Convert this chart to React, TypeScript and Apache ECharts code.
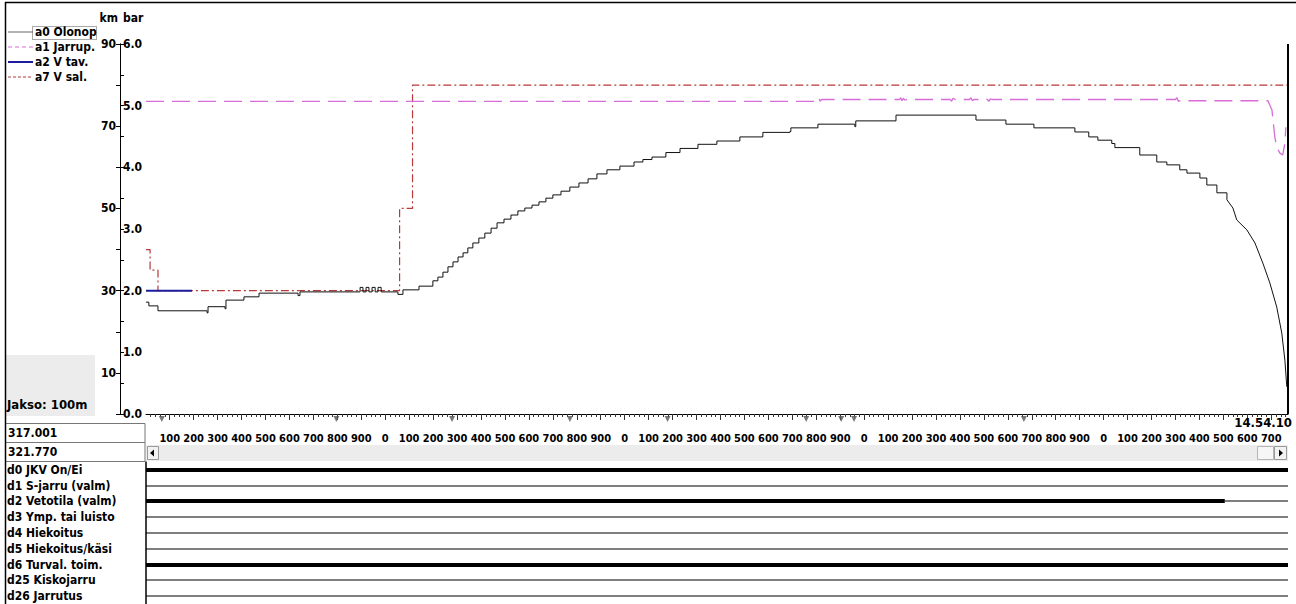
import React, { useEffect, useRef } from "react";
import * as echarts from "echarts";

const FONT = '"Liberation Sans Narrow", "DejaVu Sans Condensed", "Arial Narrow", sans-serif';

// ---- x range (km position) ----
const X_MIN = 317.001;
const X_MAX = 321.77;

// ---- tick definitions ----
const kmTickLabels = [10, 30, 50, 70, 90];
const kmTicks = [0, 10, 20, 30, 40, 50, 60, 70, 80, 90];
const barTickLabels = [0, 1, 2, 3, 4, 5, 6];
const barTicks = [0, 0.5, 1, 1.5, 2, 2.5, 3, 3.5, 4, 4.5, 5, 5.5, 6];
const xLabelValues = Array.from({ length: 47 }, (_, i) => Math.round((317.1 + i * 0.1) * 1000) / 1000);
const xMinorTicks = Array.from({ length: 238 }, (_, i) => Math.round((317.02 + i * 0.02) * 1000) / 1000);
const timeLabel = "14.54.10";
const periodLabel = "Jakso: 100m";

// ---- a0 Olonop (actual speed, km/h) : step changes ----
const olonopDist = [
  317.001, 317.013, 317.051, 317.256, 317.26, 317.331, 317.335, 317.41, 317.473, 317.636,
  317.644, 317.895, 317.907, 317.92, 317.932, 317.945, 317.958, 317.97, 317.983, 318.053,
  318.074, 318.141, 318.199, 318.22, 318.241, 318.262, 318.283, 318.304, 318.325, 318.345,
  318.366, 318.391, 318.416, 318.442, 318.467, 318.496, 318.525, 318.554, 318.583, 318.613,
  318.642, 318.671, 318.7, 318.734, 318.771, 318.809, 318.847, 318.884, 318.926, 318.98,
  319.039, 319.076, 319.114, 319.172, 319.231, 319.306, 319.385, 319.481, 319.577, 319.69,
  319.694, 319.807, 319.961, 319.965, 320.133, 320.467, 320.592, 320.709, 320.88, 320.938,
  320.976, 321.034, 321.047, 321.151, 321.222, 321.264, 321.318, 321.348, 321.402, 321.431,
  321.473, 321.515,
];
const olonopKmh = [
  27.2, 26.3, 25.1, 24.6, 26.1, 25.6, 27.7, 28.5, 29.4, 28.8,
  29.7, 30.8, 29.7, 30.8, 29.7, 30.8, 29.7, 30.8, 29.7, 29.1,
  30.2, 31.1, 32.4, 33.3, 34.5, 35.8, 37.0, 38.2, 39.2, 40.4,
  41.6, 42.8, 44.0, 45.2, 46.5, 47.4, 48.4, 49.4, 50.1, 50.8,
  51.6, 52.5, 53.3, 54.2, 55.2, 56.2, 57.2, 58.4, 59.4, 60.3,
  61.3, 61.9, 62.5, 63.6, 64.6, 65.6, 66.4, 67.4, 68.5, 68.7,
  69.6, 70.5, 69.9, 71.3, 72.7, 71.5, 70.5, 69.6, 68.6, 67.4,
  66.6, 65.8, 64.8, 63.0, 61.3, 60.6, 59.4, 58.6, 57.4, 55.7,
  53.8, 52.1,
];
// braking tail (continuous)
const olonopTailDist = [321.515, 321.54, 321.556, 321.598, 321.632, 321.665, 321.694, 321.723, 321.744, 321.757, 321.765];
const olonopTailKmh = [52.1, 50.1, 47.2, 44.8, 41.6, 36.7, 31.9, 26.0, 19.7, 13.1, 6.6];

// ---- a1 Jarrup. (brake pipe pressure, bar) ----
const jarrupDist = [
  317.001, 319.808, 319.812, 319.816, 319.822, 320.148, 320.153, 320.158, 320.164, 320.17,
  320.178, 320.36, 320.365, 320.371, 320.38, 320.44, 320.446, 320.452, 320.458, 320.515,
  320.521, 320.527, 320.535, 321.3, 321.306, 321.312, 321.318, 321.686, 321.703, 321.715,
  321.723, 321.736, 321.748, 321.757, 321.761,
];
const jarrupBar = [
  5.07, 5.07, 5.12, 5.07, 5.1, 5.1, 5.13, 5.08, 5.12, 5.09,
  5.1, 5.1, 5.07, 5.12, 5.1, 5.1, 5.13, 5.08, 5.1, 5.1,
  5.07, 5.11, 5.1, 5.1, 5.13, 5.07, 5.08, 5.08, 4.93, 4.49,
  4.33, 4.23, 4.2, 4.39, 4.65,
];

// ---- a2 V tav. (target speed, km/h) ----
const vTavDist = [317.001, 317.193];
const vTavKmh = [30, 30];

// ---- a7 V sal. (permitted speed, km/h) : step changes ----
const vSalDist = [317.001, 317.018, 317.051, 318.06, 318.114, 321.77];
const vSalKmh = [40, 35, 30, 50, 80, 80];

// ---- track markers on the axis ----
const markerDist = [317.067, 317.796, 318.279, 318.771, 319.179, 319.758, 319.904, 319.958, 320.667];

// ---- digital signals ----
const digitalNames = [
  "d0 JKV On/Ei",
  "d1 S-jarru (valm)",
  "d2 Vetotila (valm)",
  "d3 Ymp. tai luisto",
  "d4 Hiekoitus",
  "d5 Hiekoitus/käsi",
  "d6 Turval. toim.",
  "d25 Kiskojarru",
  "d26 Jarrutus",
];
// [start, end, state] per signal
const digitalSegments: number[][][] = [
  [[X_MIN, X_MAX, 1]],
  [[X_MIN, X_MAX, 0]],
  [[X_MIN, 321.506, 1], [321.506, X_MAX, 0]],
  [[X_MIN, X_MAX, 0]],
  [[X_MIN, X_MAX, 0]],
  [[X_MIN, X_MAX, 0]],
  [[X_MIN, X_MAX, 1]],
  [[X_MIN, X_MAX, 0]],
  [[X_MIN, X_MAX, 0]],
];

const zip = (a: number[], b: number[]) => a.map((v, i) => [v, b[i]]);

const txt = { fontFamily: FONT, fontWeight: "bold" as const, fontSize: 12, color: "#000" };
const noSym = { color: "rgba(0,0,0,0)", borderWidth: 0, opacity: 0 };

export default function App() {
  const ref = useRef<HTMLDivElement>(null);
  useEffect(() => {
    if (!ref.current) return;
    const chart = echarts.init(ref.current, null, { renderer: "svg" });

    const digitalData: number[][] = [];
    digitalSegments.forEach((segs, row) => segs.forEach((s) => digitalData.push([s[0], s[1], row, s[2]])));

    const mFmt = (v: number) => String(Math.round((v - Math.floor(v + 1e-6)) * 1000));

    const option: any = {
      animation: false,
      backgroundColor: "#fff",
      textStyle: { fontFamily: FONT },
      grid: [
        { left: 146, top: 44, width: 1142, height: 370 },
        { left: 146, top: 462, width: 1142, height: 142 },
      ],
      legend: {
        orient: "vertical",
        left: 7,
        top: 26,
        padding: 0,
        itemWidth: 25,
        itemHeight: 10,
        itemGap: 3,
        selectedMode: false,
        itemStyle: noSym,
        textStyle: { ...txt, lineHeight: 12, padding: [0, 0, 0, -3] },
        data: [
          { name: "a0 Olonop", itemStyle: noSym, lineStyle: { color: "#666", type: "solid", width: 1 } },
          { name: "a1 Jarrup.", itemStyle: noSym, lineStyle: { color: "#d86cd8", type: [4, 3], width: 1.2 } },
          { name: "a2 V tav.", itemStyle: noSym, lineStyle: { color: "#1c1c9c", type: "solid", width: 2 } },
          { name: "a7 V sal.", itemStyle: noSym, lineStyle: { color: "#b8393a", type: [3, 2], width: 1.2 } },
        ],
      },
      xAxis: [
        {
          type: "value",
          gridIndex: 0,
          min: X_MIN,
          max: X_MAX,
          position: "bottom",
          axisLine: { show: true, onZero: false, lineStyle: { color: "#000", width: 1 } },
          axisTick: { show: true, customValues: xMinorTicks, length: 3, lineStyle: { color: "#333" } },
          axisLabel: {
            customValues: xLabelValues,
            formatter: mFmt,
            margin: 19,
            ...txt,
            fontSize: 11,
            hideOverlap: false,
            showMinLabel: true,
            showMaxLabel: true,
          },
          splitLine: { show: false },
        },
        {
          type: "value",
          gridIndex: 0,
          min: X_MIN,
          max: X_MAX,
          position: "bottom",
          offset: 0,
          axisLine: { show: false },
          axisTick: { show: true, customValues: xLabelValues, length: 6, lineStyle: { color: "#333" } },
          axisLabel: { show: false },
          splitLine: { show: false },
        },
        {
          type: "value",
          gridIndex: 1,
          min: X_MIN,
          max: X_MAX,
          show: false,
          splitLine: { show: false },
        },
      ],
      yAxis: [
        {
          type: "value",
          gridIndex: 0,
          min: 0,
          max: 90,
          position: "left",
          offset: 26,
          name: "km",
          nameLocation: "end",
          nameGap: 20,
          nameTextStyle: { ...txt, align: "right", padding: [0, 2, 0, 0] },
          axisLine: { show: true, lineStyle: { color: "#000", width: 1 } },
          axisTick: { show: true, customValues: kmTicks, length: 4, lineStyle: { color: "#000" } },
          axisLabel: { customValues: kmTickLabels, margin: 4, ...txt, showMinLabel: true, showMaxLabel: true },
          splitLine: { show: false },
        },
        {
          type: "value",
          gridIndex: 0,
          min: 0,
          max: 6,
          position: "left",
          offset: 26,
          name: "bar",
          nameLocation: "end",
          nameGap: 20,
          nameTextStyle: { ...txt, align: "left", padding: [0, 0, 0, 3] },
          axisLine: { show: true, lineStyle: { color: "#000", width: 1 } },
          axisTick: { show: true, inside: true, customValues: barTicks, length: 4, lineStyle: { color: "#000" } },
          axisLabel: {
            inside: true,
            customValues: barTickLabels,
            margin: 3,
            formatter: (v: number) => v.toFixed(1),
            ...txt,
            showMinLabel: true,
            showMaxLabel: true,
          },
          splitLine: { show: false },
        },
        {
          type: "category",
          gridIndex: 1,
          data: digitalNames,
          inverse: true,
          axisLine: { show: true, lineStyle: { color: "#000", width: 1.5 } },
          axisTick: { show: false },
          axisLabel: { align: "left", margin: 139, interval: 0, ...txt },
          splitLine: { show: false },
        },
      ],
      series: [
        {
          name: "a7 V sal.",
          type: "line",
          xAxisIndex: 0,
          yAxisIndex: 0,
          step: "end",
          symbol: "none",
          data: zip(vSalDist, vSalKmh),
          lineStyle: { color: "#b8393a", width: 1.2, type: [8, 3, 2, 3] },
          itemStyle: { color: "#b8393a" },
          z: 3,
        },
        {
          name: "a1 Jarrup.",
          type: "line",
          xAxisIndex: 0,
          yAxisIndex: 1,
          symbol: "none",
          data: zip(jarrupDist, jarrupBar),
          lineStyle: { color: "#d86cd8", width: 1.3, type: [18, 8] },
          itemStyle: { color: "#d86cd8" },
          z: 3,
        },
        {
          name: "a2 V tav.",
          type: "line",
          xAxisIndex: 0,
          yAxisIndex: 0,
          symbol: "none",
          data: zip(vTavDist, vTavKmh),
          lineStyle: { color: "#1c1c9c", width: 2 },
          itemStyle: { color: "#1c1c9c" },
          z: 4,
        },
        {
          name: "a0 Olonop",
          type: "line",
          xAxisIndex: 0,
          yAxisIndex: 0,
          step: "end",
          symbol: "none",
          data: zip(olonopDist, olonopKmh),
          lineStyle: { color: "#111", width: 1 },
          itemStyle: { color: "#111" },
          z: 5,
          markLine: {
            silent: true,
            symbol: "none",
            label: { show: false },
            lineStyle: { color: "#000", width: 2, type: "solid" },
            data: [{ xAxis: 321.766 }],
          },
        },
        {
          name: "a0 Olonop",
          type: "line",
          xAxisIndex: 0,
          yAxisIndex: 0,
          symbol: "none",
          data: zip(olonopTailDist, olonopTailKmh),
          lineStyle: { color: "#111", width: 1 },
          itemStyle: { color: "#111" },
          z: 5,
        },
        {
          name: "markers",
          type: "scatter",
          xAxisIndex: 0,
          yAxisIndex: 0,
          symbol: "triangle",
          symbolRotate: 180,
          symbolSize: [6, 6],
          symbolOffset: [0, 5],
          clip: false,
          silent: true,
          itemStyle: { color: "#555" },
          data: markerDist.map((d) => [d, 0]),
          z: 6,
        },
        {
          name: "digital",
          type: "custom",
          xAxisIndex: 2,
          yAxisIndex: 2,
          silent: true,
          data: digitalData,
          renderItem: (params: any, api: any) => {
            const p1 = api.coord([api.value(0), api.value(2)]);
            const p2 = api.coord([api.value(1), api.value(2)]);
            const h = api.value(3) ? 4 : 1;
            return {
              type: "rect",
              shape: { x: p1[0], y: Math.round(p1[1]) - h / 2, width: p2[0] - p1[0], height: h },
              style: { fill: "#000" },
            };
          },
        },
      ],
      graphic: [
        { type: "line", shape: { x1: 5, y1: 2.5, x2: 1296, y2: 2.5 }, style: { stroke: "#000", lineWidth: 1.5 }, z: 10 },
        { type: "line", shape: { x1: 5.5, y1: 2, x2: 5.5, y2: 604 }, style: { stroke: "#000", lineWidth: 1.5 }, z: 10 },
        { type: "rect", shape: { x: 6, y: 355, width: 89, height: 61 }, style: { fill: "#ececec" }, z: 0 },
        { type: "text", x: 7, y: 404, style: { text: periodLabel, font: `bold 13px ${FONT}`, fill: "#000", verticalAlign: "middle" }, z: 10 },
        { type: "rect", shape: { x: 5.5, y: 423.5, width: 139.5, height: 19 }, style: { fill: "#fff", stroke: "#777", lineWidth: 1 }, z: 1 },
        { type: "rect", shape: { x: 5.5, y: 442.5, width: 139.5, height: 19 }, style: { fill: "#fff", stroke: "#777", lineWidth: 1 }, z: 1 },
        { type: "text", x: 8, y: 433, style: { text: X_MIN.toFixed(3), font: `bold 12px ${FONT}`, fill: "#000", verticalAlign: "middle" }, z: 10 },
        { type: "text", x: 8, y: 452, style: { text: X_MAX.toFixed(3), font: `bold 12px ${FONT}`, fill: "#000", verticalAlign: "middle" }, z: 10 },
        { type: "rect", shape: { x: 146, y: 445, width: 1142, height: 16 }, style: { fill: "#ececec" }, z: 0 },
        { type: "rect", shape: { x: 147.5, y: 446.5, width: 11, height: 13 }, style: { fill: "#f2f2f2", stroke: "#9a9a9a" }, z: 1 },
        { type: "polygon", shape: { points: [[150, 453], [154, 449.5], [154, 456.5]] }, style: { fill: "#000" }, z: 2 },
        { type: "rect", shape: { x: 1257.5, y: 446.5, width: 16, height: 13 }, style: { fill: "#f6f6f6", stroke: "#b5b5b5" }, z: 1 },
        { type: "rect", shape: { x: 1274.5, y: 446.5, width: 12, height: 13 }, style: { fill: "#f2f2f2", stroke: "#9a9a9a" }, z: 1 },
        { type: "polygon", shape: { points: [[1283, 453], [1279, 449.5], [1279, 456.5]] }, style: { fill: "#000" }, z: 2 },
        { type: "text", x: 1292, y: 422, style: { text: timeLabel, font: `bold 13px ${FONT}`, fill: "#000", align: "right", verticalAlign: "middle" }, z: 10 },
        { type: "rect", shape: { x: 32.5, y: 26.5, width: 64, height: 13 }, style: { fill: "none", stroke: "#555", lineWidth: 1, lineDash: [1, 1] }, z: 10 },
      ],
    };
    chart.setOption(option);
    return () => chart.dispose();
  }, []);
  return (
    <div
      ref={ref}
      style={{ position: "absolute", left: 0, top: 0, width: 1296, height: 604, background: "#fff" }}
    />
  );
}
